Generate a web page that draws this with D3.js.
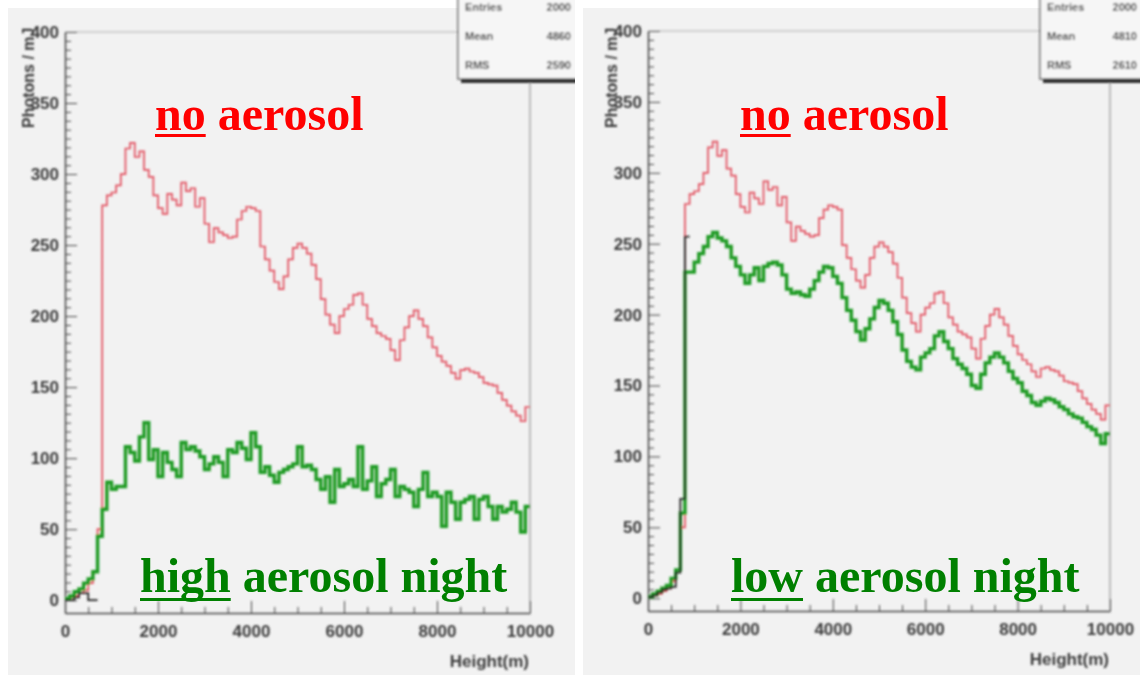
<!DOCTYPE html>
<html><head><meta charset="utf-8">
<script src="https://cdn.jsdelivr.net/npm/d3@7"></script>
<style>
html,body{margin:0;padding:0;background:#fff;}
svg{display:block;}
.axis text{font-family:"Liberation Sans",Arial,sans-serif;font-weight:bold;font-size:17px;fill:#3a3a3a;}
.axis path,.axis line{stroke:#444;}
</style></head><body>
<svg id="chart" width="1140" height="675"></svg>
<script>
// Lower edges of the 100 m height bins
const heightEdges = d3.range(0, 10000, 100);

// Photons per bin, clear-sky reference (same in both panels)
const noAerosol = [
  1, 2, 3, 5, 7, 12, 20, 50, 278, 285,
  287, 292, 300, 318, 322, 312, 316, 303, 298, 285,
  276, 272, 286, 282, 278, 294, 288, 290, 277, 283,
  265, 252, 262, 259, 257, 255, 256, 268, 274, 277,
  276, 274, 249, 240, 232, 224, 219, 228, 240, 248,
  251, 248, 244, 236, 226, 212, 201, 194, 188, 200,
  205, 208, 215, 216, 208, 198, 193, 188, 186, 184,
  176, 169, 183, 192, 200, 204, 198, 193, 185, 178,
  172, 168, 165, 160, 156, 162, 163, 161, 160, 157,
  153, 152, 151, 146, 141, 137, 133, 130, 126, 136
];

// High aerosol night
const highAerosol = [
  1, 3, 6, 8, 12, 15, 20, 45, 64, 83,
  78, 80, 80, 108, 104, 98, 115, 125, 99, 106,
  87, 104, 97, 92, 87, 111, 106, 108, 105, 101,
  92, 96, 101, 97, 87, 106, 104, 111, 107, 99,
  118, 108, 90, 94, 88, 83, 90, 92, 94, 96,
  108, 94, 95, 92, 85, 78, 87, 69, 92, 80,
  82, 85, 80, 108, 78, 84, 94, 73, 82, 85,
  92, 73, 80, 78, 76, 66, 78, 90, 73, 76,
  73, 52, 76, 69, 57, 69, 71, 73, 57, 71,
  73, 66, 57, 66, 62, 64, 69, 62, 48, 66
];

// Low aerosol night
const lowAerosol = [
  1, 3, 5, 7, 9, 14, 20, 60, 230, 230,
  237, 243, 248, 255, 258, 254, 252, 248, 240, 234,
  228, 222, 228, 233, 224, 234, 236, 237, 235, 228,
  218, 215, 216, 214, 213, 218, 224, 230, 234, 233,
  227, 222, 212, 203, 196, 188, 182, 190, 197, 205,
  210, 208, 203, 195, 186, 175, 167, 163, 161, 170,
  173, 176, 185, 188, 181, 176, 169, 165, 162, 158,
  150, 148, 158, 166, 170, 173, 170, 166, 160, 155,
  152, 146, 143, 138, 136, 139, 141, 140, 138, 135,
  133, 130, 128, 127, 124, 121, 119, 115, 109, 116
];

// Near-ground raw counts drawn in black
const highRef = [0, 0, 2, 5, 5, 0, 0];
const lowRef = [1, 2, 4, 6, 7, 8, 18, 70, 255];

const xTicks = [0, 2000, 4000, 6000, 8000, 10000];
const yTicks = [0, 50, 100, 150, 200, 250, 300, 350, 400];

const statsLeft = [["Entries", "2000"], ["Mean", "4860"], ["RMS", "2590"]];
const statsRight = [["Entries", "2000"], ["Mean", "4810"], ["RMS", "2610"]];

const panels = [
  { id: "L", bx0: 8, bx1: 575, px0: 65, px1: 530, py0: 613, py1: 32,
    boxX: 458, valX: 571, stats: statsLeft, green: highAerosol, ref: highRef,
    noX: 155, nightX: 140, nightWord: "high" },
  { id: "R", bx0: 583, bx1: 1140, px0: 648, px1: 1110, py0: 611, py1: 31,
    boxX: 1040, valX: 1137, stats: statsRight, green: lowAerosol, ref: lowRef,
    noX: 740, nightX: 731, nightWord: "low" }
];

const svg = d3.select("#chart");
const defs = svg.append("defs");
defs.append("filter").attr("id", "soft")
  .attr("x", "-5%").attr("y", "-5%").attr("width", "110%").attr("height", "110%")
  .append("feGaussianBlur").attr("stdDeviation", 0.8);

svg.append("rect").attr("width", 1140).attr("height", 675).attr("fill", "#ffffff");

function histPoints(vals) {
  const pts = vals.map((v, i) => [heightEdges[i], v]);
  pts.push([heightEdges[vals.length - 1] + 100, vals[vals.length - 1]]);
  return pts;
}

panels.forEach(p => {
  defs.append("clipPath").attr("id", "clip" + p.id)
    .append("rect").attr("x", p.bx0).attr("y", 0)
    .attr("width", p.bx1 - p.bx0).attr("height", 675);

  const g = svg.append("g").attr("clip-path", `url(#clip${p.id})`);
  g.append("rect").attr("x", p.bx0).attr("y", 8)
    .attr("width", p.bx1 - p.bx0).attr("height", 667).attr("fill", "#f2f2f2");

  const plot = g.append("g").attr("filter", "url(#soft)");

  const x = d3.scaleLinear().domain([0, 10000]).range([p.px0, p.px1]);
  const y = d3.scaleLinear().domain([-9, 400]).range([p.py0, p.py1]);

  // frame top and right
  plot.append("line").attr("x1", p.px0).attr("x2", p.boxX)
    .attr("y1", p.py1).attr("y2", p.py1).attr("stroke", "#c4c4c4").attr("stroke-width", 1.5);
  plot.append("line").attr("x1", p.px1).attr("x2", p.px1)
    .attr("y1", 80).attr("y2", p.py0).attr("stroke", "#a8a8a8").attr("stroke-width", 1.5);

  // minor ticks
  const yMinor = d3.range(0, 401, 6.25).filter(v => v % 50 !== 0);
  plot.append("g").attr("class", "axis").attr("transform", `translate(${p.px0},0)`)
    .call(d3.axisLeft(y).tickValues(yMinor).tickSize(-6).tickFormat(""))
    .call(a => a.select(".domain").remove());
  const xMinor = d3.range(0, 10001, 500).filter(v => v % 2000 !== 0);
  plot.append("g").attr("class", "axis").attr("transform", `translate(0,${p.py0})`)
    .call(d3.axisBottom(x).tickValues(xMinor).tickSize(-6).tickFormat(""))
    .call(a => a.select(".domain").remove());

  // major axes
  plot.append("g").attr("class", "axis").attr("transform", `translate(${p.px0},0)`)
    .call(d3.axisLeft(y).tickValues(yTicks).tickSize(-12).tickSizeOuter(0).tickPadding(6).tickFormat(d3.format("d")))
    .call(a => a.select(".domain").attr("stroke-width", 1.5));
  plot.append("g").attr("class", "axis").attr("transform", `translate(0,${p.py0})`)
    .call(d3.axisBottom(x).tickValues(xTicks).tickSize(-12).tickSizeOuter(0).tickPadding(12).tickFormat(d3.format("d")))
    .call(a => a.select(".domain").attr("stroke-width", 1.5));

  // axis titles
  plot.append("text").attr("x", p.px1 - 1).attr("y", p.py0 + 54)
    .attr("text-anchor", "end")
    .style("font", "bold 17px 'Liberation Sans', Arial, sans-serif").attr("fill", "#3a3a3a")
    .text("Height(m)");
  plot.append("text")
    .attr("transform", `translate(${p.px0 - 31},128) rotate(-90)`)
    .attr("text-anchor", "start")
    .style("font", "bold 16px 'Liberation Sans', Arial, sans-serif").attr("fill", "#3a3a3a")
    .text("Photons / mJ");

  // histograms
  const line = d3.line().x(d => x(d[0])).y(d => y(d[1])).curve(d3.curveStepAfter);
  plot.append("path").datum(histPoints(noAerosol)).attr("d", line)
    .attr("fill", "none").attr("stroke", "#e2505e").attr("stroke-width", 1.7);
  plot.append("path").datum(histPoints(p.green)).attr("d", line)
    .attr("fill", "none").attr("stroke", "#1e9a22").attr("stroke-width", 3.4);
  plot.append("path").datum(histPoints(p.ref)).attr("d", line)
    .attr("fill", "none").attr("stroke", "#222").attr("stroke-width", 1.8);

  // statistics box
  const box = plot.append("g");
  box.append("rect").attr("x", p.boxX + 3).attr("y", -6).attr("width", 200).attr("height", 89)
    .attr("fill", "#333");
  box.append("rect").attr("x", p.boxX).attr("y", -8).attr("width", 200).attr("height", 87)
    .attr("fill", "#f6f6f6").attr("stroke", "#333").attr("stroke-width", 1.2);
  p.stats.forEach((s, i) => {
    const yy = 11 + i * 29;
    box.append("text").attr("x", p.boxX + 7).attr("y", yy)
      .style("font", "bold 11px 'Liberation Sans', Arial, sans-serif").attr("fill", "#444").text(s[0]);
    box.append("text").attr("x", p.valX).attr("y", yy).attr("text-anchor", "end")
      .style("font", "bold 11px 'Liberation Sans', Arial, sans-serif").attr("fill", "#444").text(s[1]);
  });

  // annotations
  const noText = g.append("text").attr("x", p.noX).attr("y", 130)
    .style("font", "bold 48px 'Liberation Serif', 'Times New Roman', serif").attr("fill", "#ff0000");
  const noWord = noText.append("tspan").text("no");
  noText.append("tspan").text(" aerosol");
  const wNo = noWord.node().getComputedTextLength();
  g.append("line").attr("x1", p.noX).attr("x2", p.noX + wNo)
    .attr("y1", 135.5).attr("y2", 135.5).attr("stroke", "#ff0000").attr("stroke-width", 3);

  const nText = g.append("text").attr("x", p.nightX).attr("y", 592)
    .style("font", "bold 48px 'Liberation Serif', 'Times New Roman', serif").attr("fill", "#008000");
  const nWord = nText.append("tspan").text(p.nightWord);
  nText.append("tspan").text(" aerosol night");
  const wN = nWord.node().getComputedTextLength();
  g.append("line").attr("x1", p.nightX).attr("x2", p.nightX + wN)
    .attr("y1", 599.5).attr("y2", 599.5).attr("stroke", "#008000").attr("stroke-width", 3);
});
</script>
</body></html>
